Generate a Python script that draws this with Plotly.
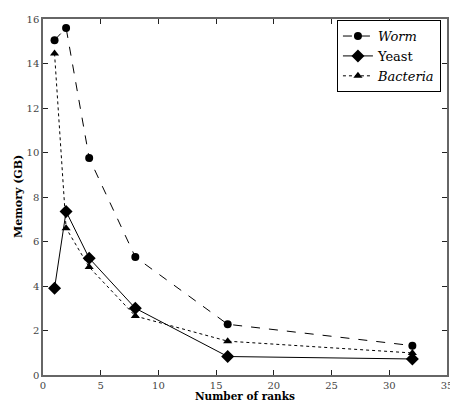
import plotly.graph_objects as go

ranks = [1, 2, 4, 8, 16, 32]
worm = [15.05, 15.6, 9.75, 5.3, 2.28, 1.32]
yeast = [3.9, 7.35, 5.25, 3.0, 0.83, 0.72]
bacteria = [14.45, 6.6, 4.85, 2.65, 1.52, 0.99]

font_family = "'DejaVu Serif', serif"

fig = go.Figure()
fig.add_trace(go.Scatter(x=ranks, y=worm, mode="lines+markers", name="<i>Worm</i>",
                         line=dict(color="black", dash="dash", width=1),
                         marker=dict(symbol="circle", size=8, color="black")))
fig.add_trace(go.Scatter(x=ranks, y=yeast, mode="lines+markers", name="Yeast",
                         line=dict(color="black", dash="solid", width=1),
                         marker=dict(symbol="diamond", size=10, color="black")))
fig.add_trace(go.Scatter(x=ranks, y=bacteria, mode="lines+markers", name="<i>Bacteria</i>",
                         line=dict(color="black", dash="dot", width=1),
                         marker=dict(symbol="triangle-up", size=8, color="black")))

axis_common = dict(showline=True, linecolor="#666666", linewidth=1.5, mirror="ticks",
                   ticks="inside", ticklen=5, tickcolor="#222222", showgrid=False,
                   zeroline=False, tickfont=dict(family=font_family, size=10, color="#444444"))

# page body has an 8px default margin, so the figure is sized to fill the rest of the window
fig.update_layout(
    width=450, height=395,
    margin=dict(l=35, r=6, t=5, b=28),
    paper_bgcolor="white", plot_bgcolor="white",
    font=dict(family=font_family, color="black"),
    xaxis=dict(range=[0, 35], dtick=5, ticklabelstandoff=0, **axis_common),
    yaxis=dict(range=[0, 16], dtick=2, **axis_common),
    legend=dict(x=0.985, y=0.997, xanchor="right", yanchor="top",
                bordercolor="black", borderwidth=1, bgcolor="white",
                font=dict(family=font_family, size=13), tracegroupgap=0),
    showlegend=True,
    annotations=[
        dict(text="<b>Number of ranks</b>", xref="paper", yref="paper", x=0.5, y=0,
             yshift=-28, xanchor="center", yanchor="bottom", showarrow=False,
             borderpad=0, font=dict(family=font_family, size=10.5)),
        dict(text="<b>Memory (GB)</b>", xref="paper", yref="paper", x=0, y=0.5,
             xshift=-25, xanchor="center", yanchor="middle", showarrow=False, textangle=-90,
             font=dict(family=font_family, size=11)),
    ],
)

fig.write_html("out.html")
